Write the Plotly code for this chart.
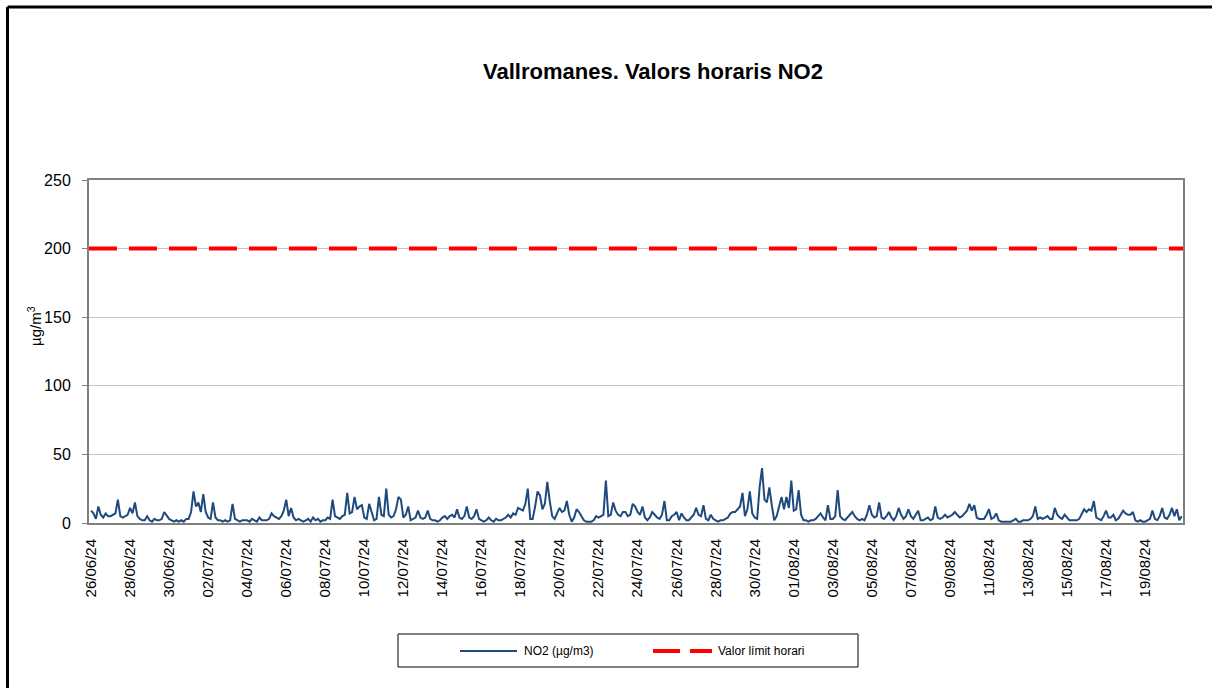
import pandas as pd
import plotly.graph_objects as go

# ---------------- data ----------------
title_text = "Vallromanes. Valors horaris NO2"
series_name = "NO2 (µg/m3)"
limit_name = "Valor límit horari"
limit_value = 200

start_time = "2024-06-26 00:00"
step = "3h"
# NO2 values (µg/m3), 8 readings per day (every 3 h), 26/06/24 .. 20/08/24
no2_values = [
    9, 7, 3, 12, 6, 4, 7, 5,
    5, 6, 7, 17, 5, 4, 5, 6,
    11, 7, 15, 5, 3, 2, 2, 5,
    2, 1, 3, 2, 2, 3, 8, 5,
    3, 2, 1, 2, 1, 2, 1, 3,
    3, 8, 23, 12, 15, 8, 21, 8,
    4, 3, 15, 4, 2, 2, 1, 2,
    1, 2, 14, 3, 2, 1, 2, 2,
    2, 1, 3, 2, 1, 4, 2, 2,
    2, 3, 7, 5, 4, 3, 5, 9,
    17, 5, 11, 4, 2, 3, 2, 1,
    2, 3, 1, 4, 2, 3, 1, 2,
    2, 4, 3, 17, 5, 4, 3, 5,
    6, 22, 7, 8, 19, 10, 12, 13,
    4, 3, 14, 8, 2, 3, 19, 6,
    5, 25, 6, 4, 5, 10, 19, 17,
    4, 6, 12, 2, 3, 4, 9, 4,
    3, 4, 9, 3, 2, 2, 1, 2,
    4, 5, 3, 5, 6, 4, 10, 4,
    3, 5, 12, 4, 3, 5, 10, 3,
    2, 1, 2, 4, 2, 1, 3, 2,
    2, 3, 4, 6, 4, 7, 6, 11,
    10, 9, 14, 25, 3, 3, 12, 23,
    20, 10, 14, 30, 16, 5, 3, 7,
    11, 8, 9, 16, 6, 1, 4, 10,
    8, 5, 2, 1, 1, 1, 2, 5,
    4, 5, 6, 31, 5, 6, 15, 9,
    6, 5, 8, 8, 5, 6, 14, 12,
    8, 6, 12, 4, 2, 4, 8, 6,
    4, 3, 6, 16, 2, 2, 5, 6,
    8, 2, 7, 4, 2, 2, 4, 6,
    11, 6, 5, 13, 3, 2, 6, 3,
    2, 1, 2, 2, 3, 4, 7, 8,
    8, 10, 12, 22, 5, 10, 23, 7,
    4, 3, 26, 40, 17, 15, 26, 13,
    2, 5, 12, 19, 10, 19, 11, 31,
    9, 10, 24, 6, 2, 2, 1, 2,
    2, 3, 5, 7, 4, 2, 13, 3,
    3, 5, 24, 5, 3, 2, 4, 6,
    8, 5, 3, 2, 3, 2, 6, 13,
    6, 4, 5, 15, 4, 3, 5, 8,
    4, 2, 5, 11, 6, 3, 5, 10,
    5, 3, 6, 9, 2, 2, 3, 4,
    2, 3, 12, 4, 3, 4, 6, 4,
    5, 6, 8, 6, 4, 5, 7, 9,
    14, 9, 13, 4, 3, 3, 3, 6,
    10, 3, 4, 7, 2, 1, 1, 1,
    1, 1, 2, 3, 1, 1, 2, 2,
    2, 3, 5, 12, 3, 4, 3, 4,
    5, 3, 3, 11, 6, 4, 3, 6,
    4, 2, 2, 2, 2, 3, 6, 10,
    8, 10, 9, 16, 4, 3, 2, 5,
    9, 4, 4, 6, 2, 3, 6, 9,
    7, 6, 6, 8, 2, 1, 2, 1,
    1, 2, 3, 9, 3, 2, 5, 11,
    4, 3, 6, 11, 5, 10, 2, 5,
]
x_range = ["2024-06-25 21:30", "2024-08-20 22:35"]
tick_labels = [
    "26/06/24", "28/06/24", "30/06/24", "02/07/24", "04/07/24", "06/07/24",
    "08/07/24", "10/07/24", "12/07/24", "14/07/24", "16/07/24", "18/07/24",
    "20/07/24", "22/07/24", "24/07/24", "26/07/24", "28/07/24", "30/07/24",
    "01/08/24", "03/08/24", "05/08/24", "07/08/24", "09/08/24", "11/08/24",
    "13/08/24", "15/08/24", "17/08/24", "19/08/24",
]
y_ticks = [0, 50, 100, 150, 200, 250]

# ---------------- figure ----------------
timestamps = pd.date_range(start_time, periods=len(no2_values), freq=step)
tick_vals = [pd.to_datetime(t, format="%d/%m/%y") for t in tick_labels]

FONT = "Liberation Sans, Arial, sans-serif"
W, H = 1212, 688
L, R, T, B = 89, 1183, 180, 523  # plot area in pixels


def px(xp):
    return (xp - L) / (R - L)


def py(yp):
    return (B - yp) / (B - T)


fig = go.Figure()
fig.add_trace(go.Scatter(
    x=timestamps, y=no2_values, mode="lines", name=series_name,
    line=dict(color="#1f4a7e", width=2), showlegend=False,
))
fig.add_trace(go.Scatter(
    x=x_range, y=[limit_value, limit_value], mode="lines", name=limit_name,
    line=dict(color="#ff0000", width=4, dash="28px,12px"), showlegend=False,
))

shapes = [
    # outer frame (top and left edges visible)
    dict(type="line", xref="paper", yref="paper", x0=px(7.5), x1=px(W + 5),
         y0=py(7), y1=py(7), line=dict(color="black", width=3)),
    dict(type="line", xref="paper", yref="paper", x0=px(7.5), x1=px(7.5),
         y0=py(7), y1=py(H + 5), line=dict(color="black", width=3)),
    # legend box
    dict(type="rect", xref="paper", yref="paper", x0=px(398), x1=px(858),
         y0=py(634), y1=py(667), line=dict(color="black", width=1),
         fillcolor="white"),
    dict(type="line", xref="paper", yref="paper", x0=px(460), x1=px(517),
         y0=py(651), y1=py(651), line=dict(color="#1f4a7e", width=2)),
    dict(type="line", xref="paper", yref="paper", x0=px(653), x1=px(712),
         y0=py(651), y1=py(651), line=dict(color="#ff0000", width=4, dash="27px,10px")),
]

annotations = [
    dict(text="µg/m<sup>3</sup>", xref="paper", yref="paper", x=px(34), y=py(326),
         textangle=-90, showarrow=False, font=dict(family=FONT, size=15, color="black"),
         xanchor="center", yanchor="middle"),
    dict(text=series_name, xref="paper", yref="paper", x=px(522), y=py(651),
         showarrow=False, xanchor="left", yanchor="middle",
         font=dict(family=FONT, size=12, color="black")),
    dict(text=limit_name, xref="paper", yref="paper", x=px(716), y=py(651),
         showarrow=False, xanchor="left", yanchor="middle",
         font=dict(family=FONT, size=12, color="black")),
]

fig.update_layout(
    width=W, height=H,
    margin=dict(l=L, r=W - R, t=T, b=H - B, pad=0),
    paper_bgcolor="white", plot_bgcolor="white",
    font=dict(family=FONT, size=15, color="black"),
    title=dict(text="<b>" + title_text + "</b>", xref="container", yref="container",
               x=653 / W, y=1 - 71 / H, xanchor="center", yanchor="middle",
               font=dict(family=FONT, size=22, color="black")),
    shapes=shapes, annotations=annotations, showlegend=False,
)
fig.update_xaxes(
    type="date", range=x_range, tickvals=tick_vals, ticktext=tick_labels,
    tickangle=-90, showgrid=False, zeroline=False, ticks="",
    showline=True, linecolor="#808080", linewidth=2, mirror=True,
    tickfont=dict(family=FONT, size=15, color="black"), ticklabelstandoff=8,
)
fig.update_yaxes(
    range=[0, 250], tickvals=y_ticks, showgrid=True, gridcolor="#c4c4c4", gridwidth=1,
    zeroline=False, ticks="outside", ticklen=5, tickcolor="#808080", tickwidth=1,
    showline=True, linecolor="#808080", linewidth=2, mirror=True,
    tickfont=dict(family=FONT, size=16, color="black"), ticklabelstandoff=8,
)

fig.write_html(
    "out.html",
    config={"displayModeBar": False},
    post_script="document.body.style.margin='0px';document.body.style.overflow='hidden';",
)
